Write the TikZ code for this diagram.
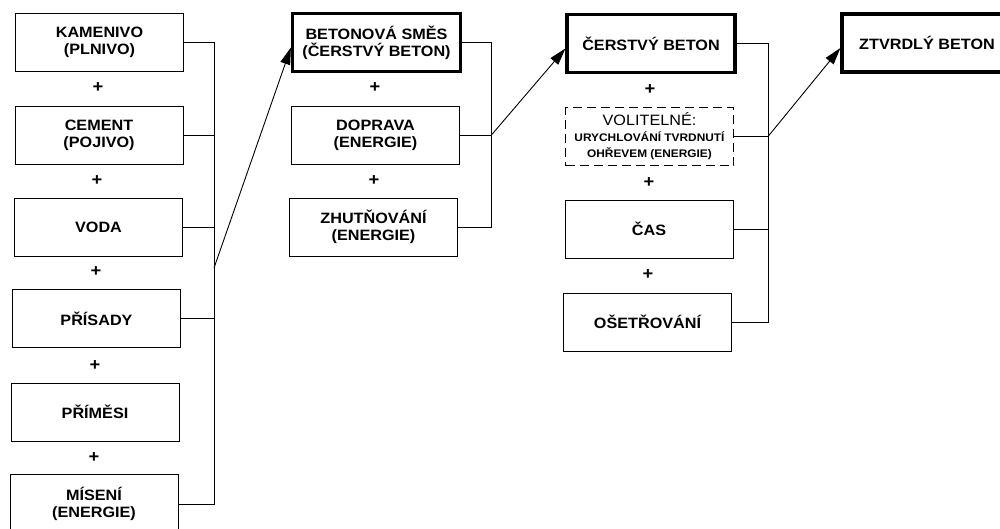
\documentclass[tikz,border=0pt]{standalone}
\usepackage{fontspec}
\setmainfont{Liberation Sans}[FakeStretch=1.08]
\usetikzlibrary{arrows.meta}
\begin{document}
\begin{tikzpicture}[x=1pt,y=-1pt,
  every node/.style={font=\fontsize{15}{17}\selectfont\bfseries},
  box/.style={draw, line width=0.9pt, minimum width=168pt, minimum height=58pt, align=center, inner sep=0pt},
  thickbox/.style={box, line width=3.2pt},
  dbox/.style={box, dash pattern=on 9pt off 5pt, line width=0.8pt},
  plus/.style={inner sep=0pt, font=\fontsize{17}{17}\selectfont\bfseries},
  conn/.style={line width=0.8pt},
  arr/.style={line width=0.9pt, -{Triangle[length=17pt,width=10pt]}}]
\useasboundingbox (0,0) rectangle (1000,528);
% column 1
\node[box] (kam) at (99.5,42) {KAMENIVO\\(PLNIVO)};
\node[plus] (p1) at (98,88) {+};
\node[box] (cem) at (99,135) {CEMENT\\(POJIVO)};
\node[plus] (p2) at (97,181) {+};
\node[box] (voda) at (98.5,227) {VODA};
\node[plus] (p3) at (96,272) {+};
\node[box] (pris) at (96.5,318.5) {PŘÍSADY};
\node[plus] (p4) at (95,366) {+};
\node[box] (prim) at (95,412) {PŘÍMĚSI};
\node[plus] (p5) at (94,458) {+};
\node[box,minimum height=60pt] (mis) at (94,504) {MÍSENÍ\\(ENERGIE)};
\coordinate (bus1) at (214,0);
\draw[conn] (kam.east) -- (kam.east -| bus1) -- (mis.east -| bus1) -- (mis.east);
\draw[conn] (cem.east) -- (cem.east -| bus1);
\draw[conn] (voda.east) -- (voda.east -| bus1);
\draw[conn] (pris.east) -- (pris.east -| bus1);
\coordinate (a1) at (214,268);
% column 2
\node[thickbox] (bet) at (376.5,42.5) {BETONOVÁ SMĚS\\(ČERSTVÝ BETON)};
\node[plus] (p6) at (375,88) {+};
\node[box] (dop) at (375.5,135.5) {DOPRAVA\\(ENERGIE)};
\node[plus] (p7) at (374,181) {+};
\node[box] (zhu) at (373.5,227) {ZHUTŇOVÁNÍ\\(ENERGIE)};
\draw[arr] (a1) -- ([yshift=-5pt]bet.west);
\coordinate (bus2) at (491,0);
\draw[conn] (bet.east) -- (bet.east -| bus2) -- (zhu.east -| bus2) -- (zhu.east);
\draw[conn] (dop.east) -- (dop.east -| bus2);
\coordinate (a2) at (491,135.5);
% column 3
\node[thickbox] (cer) at (651,43.5) {ČERSTVÝ BETON};
\node[plus] (p8) at (650,90) {+};
\node[dbox, font=\fontsize{11}{16}\selectfont\bfseries] (vol) at (649.5,136.5) {{\fontsize{15}{16}\selectfont\mdseries VOLITELNÉ:}\\URYCHLOVÁNÍ TVRDNUTÍ\\OHŘEVEM (ENERGIE)};
\node[plus] (p9) at (649,183) {+};
\node[box] (cas) at (649,229) {ČAS};
\node[plus] (p10) at (648,275) {+};
\node[box] (ose) at (647.5,322) {OŠETŘOVÁNÍ};
\draw[arr] (a2) -- ([yshift=-5pt]cer.west);
\coordinate (bus3) at (768,0);
\draw[conn] (cer.east) -- (cer.east -| bus3) -- (ose.east -| bus3) -- (ose.east);
\draw[conn] (vol.east) -- (vol.east -| bus3);
\draw[conn] (cas.east) -- (cas.east -| bus3);
\coordinate (a3) at (768,136.5);
% final
\node[thickbox, minimum width=170pt] (ztv) at (927,43) {ZTVRDLÝ BETON};
\draw[arr] (a3) -- ([yshift=-5pt]ztv.west);
\end{tikzpicture}
\end{document}
